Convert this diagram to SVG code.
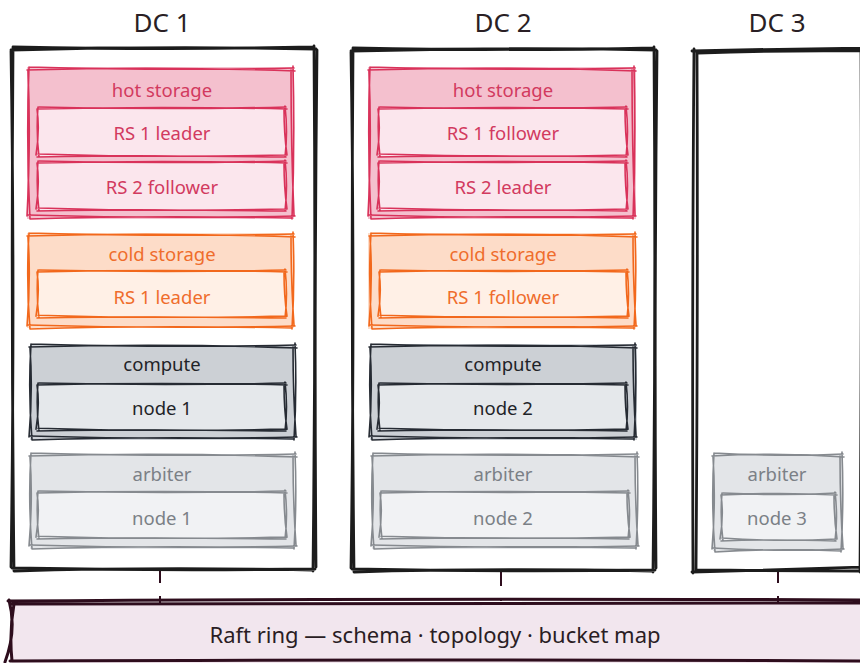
<svg xmlns="http://www.w3.org/2000/svg" xmlns:xlink="http://www.w3.org/1999/xlink" width="860" height="663" viewBox="0 0 860 663">
  <style>
    text { font-family: "Noto Sans", "Open Sans", sans-serif; text-anchor: middle; dominant-baseline: central; }
    .title { font-size: 26px; fill: #2a1f25; }
    .lbl { font-size: 18.5px; }
    .ring-lbl { font-size: 22px; fill: #2a1d24; }
    .sk { fill: none; stroke-linecap: round; stroke-linejoin: round; }
    .dc use { stroke: #1c1c1c; stroke-width: 2.8; }
    .hot .bg { fill: #f4c0ce; } .hot .in { fill: #fbe6ed; } .hot use { stroke: #d9325a; stroke-width: 1.6; } .hot text { fill: #d23a5f; }
    .cold .bg { fill: #fddcc8; } .cold .in { fill: #fff0e6; } .cold use { stroke: #f2681c; stroke-width: 1.6; } .cold text { fill: #ef6d2c; }
    .comp .bg { fill: #ccd0d5; } .comp .in { fill: #e5e8eb; } .comp use { stroke: #262b33; stroke-width: 1.6; } .comp text { fill: #1f2328; }
    .arb .bg { fill: #e3e5e8; } .arb .in { fill: #f1f2f4; } .arb use { stroke: #868a8f; stroke-width: 1.6; } .arb text { fill: #7b8086; }
    .link { stroke: #2e0d1d; stroke-width: 2; stroke-dasharray: 14 13; fill: none; }
  </style>
  <defs>
    <!-- hand-drawn outlines, each side traced twice -->
    <path id="frame" class="sk" d="M-2 2 Q150 -2 303 1 M301 -2 Q303 260 300 523 M302 521 Q150 523 -1 520 M1 523 Q-2 260 0 -1 M0 -1 Q160 2 301 -1 M304 2 Q301 270 303 519 M299 522 Q140 519 1 523 M-2 519 Q2 250 -2 3"/>
    <path id="tall" class="sk" d="M-2 1 Q132 -3 266 2 M264 -3 Q266 74 263 150 M266 147 Q132 150 -1 146 M1 150 Q-3 74 0 -2 M0 -2 Q140 2 265 -1 M262 1 Q262 80 265 146 M263 149 Q120 146 1 150 M-2 147 Q2 70 -1 2"/>
    <path id="box" class="sk" d="M-2 1 Q132 -3 266 2 M264 -3 Q266 46 263 94 M266 91 Q132 94 -1 90 M1 94 Q-3 46 0 -2 M0 -2 Q140 2 265 -1 M262 1 Q262 48 265 90 M263 93 Q120 90 1 94 M-2 91 Q2 44 -1 2"/>
    <path id="inner" class="sk" d="M-1 1 Q124 -2 249 1 M247 -2 Q250 24 247 49 M249 47 Q124 50 0 46 M1 49 Q-2 24 0 -1 M1 -1 Q130 2 248 -1 M246 1 Q246 26 249 47 M248 49 Q110 47 -1 49 M-2 47 Q2 22 -1 1"/>
    <path id="smallbox" class="sk" d="M-2 1 Q64 -3 130 2 M128 -3 Q130 48 127 97 M130 94 Q64 97 -1 93 M1 97 Q-3 48 0 -2 M0 -2 Q70 2 129 -1 M126 1 Q126 50 129 93 M127 96 Q60 93 1 97 M-2 94 Q2 46 -1 2"/>
    <path id="smallinner" class="sk" d="M-1 1 Q57 -2 115 1 M113 -2 Q116 23 113 47 M115 45 Q57 48 0 44 M1 47 Q-2 23 0 -1 M1 -1 Q60 2 114 -1 M112 1 Q112 25 115 45 M114 47 Q50 45 -1 47 M-2 45 Q2 21 -1 1"/>
  </defs>

  <!-- links from each data centre to the Raft ring -->
  <g id="connectors">
    <line class="link" x1="160" y1="569" x2="160" y2="604"/>
    <line class="link" x1="501" y1="572" x2="501" y2="601"/>
    <line class="link" x1="778" y1="569" x2="778" y2="602"/>
  </g>

  <!-- DC 1 -->
  <g id="dc1" class="dc">
    <text class="title" x="162" y="22">DC 1</text>
    <rect x="13" y="48" width="300" height="521" fill="#ffffff"/>
    <use xlink:href="#frame" transform="translate(13,48)"/>
  </g>
  <g id="dc1-hot" class="hot">
    <rect class="bg" x="27" y="67" width="267" height="152"/>
    <use xlink:href="#tall" transform="translate(29,69)"/>
    <text class="lbl" x="162" y="89">hot storage</text>
    <g id="dc1-hot-rs1">
      <rect class="in" x="38" y="108" width="248" height="48"/>
      <use xlink:href="#inner" transform="translate(38,108)"/>
      <text class="lbl" x="162" y="132">RS 1 leader</text>
    </g>
    <g id="dc1-hot-rs2">
      <rect class="in" x="38" y="162" width="248" height="48"/>
      <use xlink:href="#inner" transform="translate(38,162)"/>
      <text class="lbl" x="162" y="186">RS 2 follower</text>
    </g>
  </g>
  <g id="dc1-cold" class="cold">
    <rect class="bg" x="27" y="233" width="267" height="95"/>
    <use xlink:href="#box" transform="translate(29,235)"/>
    <text class="lbl" x="162" y="253">cold storage</text>
    <g id="dc1-cold-rs1">
      <rect class="in" x="38" y="272" width="248" height="46"/>
      <use xlink:href="#inner" transform="translate(38,271) scale(1,0.96)"/>
      <text class="lbl" x="162" y="296">RS 1 leader</text>
    </g>
  </g>
  <g id="dc1-compute" class="comp">
    <rect class="bg" x="30" y="345" width="264" height="95"/>
    <use xlink:href="#box" transform="translate(31,346)"/>
    <text class="lbl" x="162" y="363">compute</text>
    <g id="dc1-compute-node1">
      <rect class="in" x="38" y="385" width="248" height="45"/>
      <use xlink:href="#inner" transform="translate(38,384) scale(1,0.96)"/>
      <text class="lbl" x="162" y="407">node 1</text>
    </g>
  </g>
  <g id="dc1-arbiter" class="arb">
    <rect class="bg" x="30" y="454" width="264" height="95"/>
    <use xlink:href="#box" transform="translate(31,455)"/>
    <text class="lbl" x="162" y="473">arbiter</text>
    <g id="dc1-arbiter-node1">
      <rect class="in" x="38" y="493" width="248" height="45"/>
      <use xlink:href="#inner" transform="translate(38,492) scale(1,0.96)"/>
      <text class="lbl" x="162" y="517">node 1</text>
    </g>
  </g>

  <!-- DC 2 -->
  <g id="dc2" class="dc">
    <text class="title" x="503" y="22">DC 2</text>
    <rect x="353" y="49" width="301" height="521" fill="#ffffff"/>
    <use xlink:href="#frame" transform="translate(353,49)"/>
  </g>
  <g id="dc2-hot" class="hot">
    <rect class="bg" x="368" y="67" width="268" height="152"/>
    <use xlink:href="#tall" transform="translate(370,69)"/>
    <text class="lbl" x="503" y="89">hot storage</text>
    <g id="dc2-hot-rs1">
      <rect class="in" x="379" y="108" width="248" height="48"/>
      <use xlink:href="#inner" transform="translate(379,108)"/>
      <text class="lbl" x="503" y="132">RS 1 follower</text>
    </g>
    <g id="dc2-hot-rs2">
      <rect class="in" x="379" y="162" width="248" height="48"/>
      <use xlink:href="#inner" transform="translate(379,162)"/>
      <text class="lbl" x="503" y="186">RS 2 leader</text>
    </g>
  </g>
  <g id="dc2-cold" class="cold">
    <rect class="bg" x="368" y="233" width="268" height="96"/>
    <use xlink:href="#box" transform="translate(371,235)"/>
    <text class="lbl" x="503" y="253">cold storage</text>
    <g id="dc2-cold-rs1">
      <rect class="in" x="380" y="272" width="248" height="46"/>
      <use xlink:href="#inner" transform="translate(380,271) scale(1,0.96)"/>
      <text class="lbl" x="503" y="296">RS 1 follower</text>
    </g>
  </g>
  <g id="dc2-compute" class="comp">
    <rect class="bg" x="370" y="344" width="267" height="96"/>
    <use xlink:href="#box" transform="translate(371,346)"/>
    <text class="lbl" x="503" y="363">compute</text>
    <g id="dc2-compute-node2">
      <rect class="in" x="379" y="385" width="248" height="45"/>
      <use xlink:href="#inner" transform="translate(379,384) scale(1,0.96)"/>
      <text class="lbl" x="503" y="407">node 2</text>
    </g>
  </g>
  <g id="dc2-arbiter" class="arb">
    <rect class="bg" x="372" y="454" width="264" height="95"/>
    <use xlink:href="#box" transform="translate(373,455)"/>
    <text class="lbl" x="503" y="473">arbiter</text>
    <g id="dc2-arbiter-node2">
      <rect class="in" x="381" y="493" width="248" height="45"/>
      <use xlink:href="#inner" transform="translate(381,492) scale(1,0.96)"/>
      <text class="lbl" x="503" y="517">node 2</text>
    </g>
  </g>

  <!-- DC 3 -->
  <g id="dc3" class="dc">
    <text class="title" x="777" y="22">DC 3</text>
    <rect x="695" y="51" width="170" height="520" fill="#ffffff"/>
    <path class="sk" stroke="#1c1c1c" stroke-width="2.8" d="M692 51 Q780 49 866 48 M698 53 Q780 50 866 51 M694 49 Q692 300 693 573 M697 52 Q698 300 696 571 M692 572 Q780 570 866 567 M696 570 Q780 571 866 571 M861 48 Q862 300 860 572"/>
  </g>
  <g id="dc3-arbiter" class="arb">
    <rect class="bg" x="713" y="454" width="130" height="97"/>
    <use xlink:href="#smallbox" transform="translate(714,455)"/>
    <text class="lbl" x="777" y="473">arbiter</text>
    <g id="dc3-arbiter-node3">
      <rect class="in" x="722" y="494" width="114" height="46"/>
      <use xlink:href="#smallinner" transform="translate(722,494)"/>
      <text class="lbl" x="777" y="517">node 3</text>
    </g>
  </g>

  <!-- shared Raft ring -->
  <g id="raft-ring">
    <rect x="12" y="603" width="860" height="60" fill="#f2e6ee"/>
    <path class="sk" stroke="#2e0d1d" stroke-width="3" d="M8 601 Q400 598 868 600 M12 604 Q420 602 868 603 M10 661 Q400 659 868 661 M9 600 Q17 630 5 662 M14 604 Q9 632 12 661"/>
    <text class="ring-lbl" x="435" y="634">Raft ring — schema · topology · bucket map</text>
  </g>
</svg>
